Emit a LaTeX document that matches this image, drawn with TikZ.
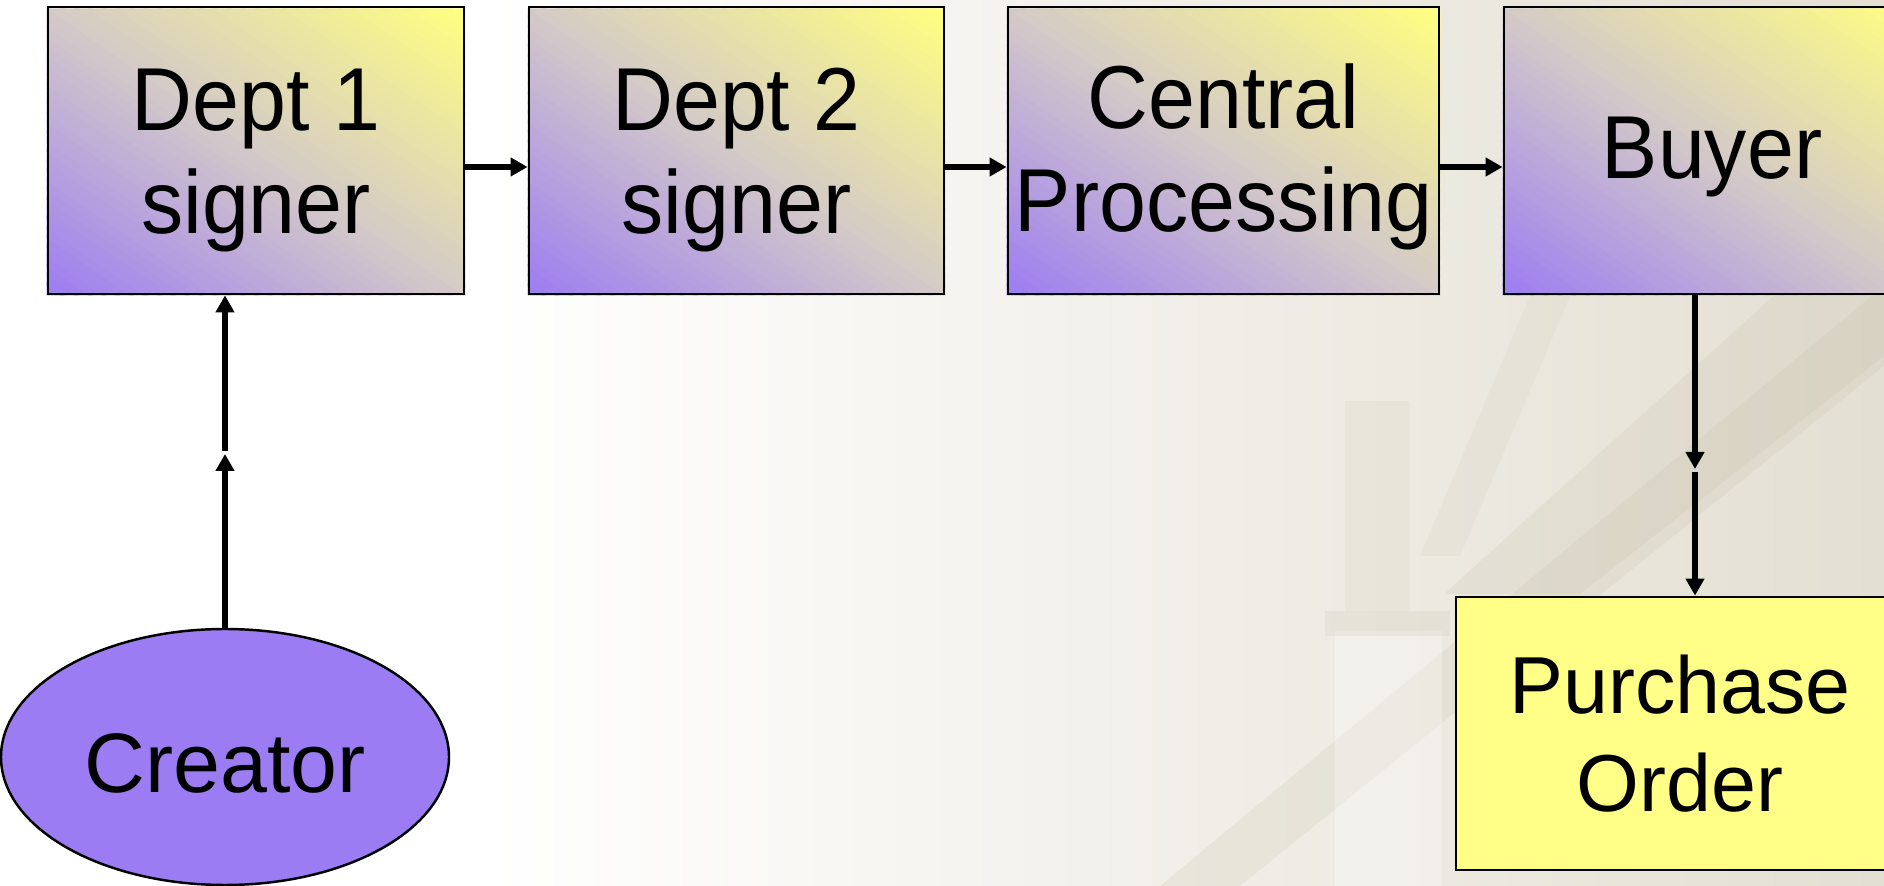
\documentclass[tikz,border=0pt]{standalone}
\usepackage{fontspec}
\setmainfont{Liberation Sans}
\usetikzlibrary{arrows.meta,shapes.geometric,calc}
\definecolor{boxyellow}{RGB}{255,255,128}
\definecolor{boxpurple}{RGB}{156,124,242}
\definecolor{boxmid}{RGB}{212,202,200}
\definecolor{poyellow}{RGB}{255,255,136}
\definecolor{bgA}{RGB}{242,240,234}
\definecolor{bgB}{RGB}{228,223,211}
\definecolor{ornament}{RGB}{190,182,156}
\pgfdeclarehorizontalshading{bgshade}{100bp}{color(0bp)=(white); color(25bp)=(white); color(38bp)=(white); color(55bp)=(bgA); color(75bp)=(bgB); color(100bp)=(bgB)}
\pgfdeclarelayer{back}
\pgfdeclarelayer{grad}
\pgfsetlayers{back,grad,main}
% diagonal corner-to-corner gradient inside a named node: #1 node, #2 width, #3 height
\newcommand\gradfill[3]{%
  \begin{scope}
    \clip (#1.south west) rectangle (#1.north east);
    \begin{scope}[shift={(#1.south west)}, x=#2, y=#3]
      \foreach \i in {0,...,59}{%
        \pgfmathsetmacro\sa{\i/30}%
        \pgfmathsetmacro\sb{(\i+1.3)/30}%
        \pgfmathtruncatemacro\pa{min(100,round((\i+0.5)/30*100))}%
        \pgfmathtruncatemacro\pb{max(0,round(((\i+0.5)/30-1)*100))}%
        \ifnum\i<30 \colorlet{stripc}{boxmid!\pa!boxpurple}\else\colorlet{stripc}{boxyellow!\pb!boxmid}\fi
        \fill[stripc] (\sa,0) -- (\sb,0) -- (\sb-1,1) -- (\sa-1,1) -- cycle;
      }
    \end{scope}
  \end{scope}}
\newcommand\btext[2]{\raisebox{#1}[\height][\depth]{\scalebox{1.0}[1.06]{\begin{tabular}{@{}c@{}}#2\end{tabular}}}}
\begin{document}
\begin{tikzpicture}[
  gbox/.style={draw=black, line width=0.8pt, rectangle, minimum width=#1, minimum height=2.87cm,
    inner sep=0pt, font=\fontsize{24}{27.5}\selectfont},
  pobox/.style={draw=black, line width=0.8pt, rectangle, fill=poyellow, inner sep=0pt,
    minimum width=4.48cm, minimum height=2.73cm, font=\fontsize{23}{28}\selectfont},
  creatorshape/.style={draw=black, line width=0.7pt, ellipse, fill=boxpurple, inner sep=0pt,
    minimum width=4.48cm, minimum height=2.56cm, font=\fontsize{24}{28.5}\selectfont},
  arr/.style={-{Triangle[length=0.17cm,width=0.18cm]}, line width=1.45pt, draw=black},
  orn/.style={fill=ornament, opacity=0.16}
]
\useasboundingbox (0,0) rectangle (18.84,8.86);
% background
\begin{pgfonlayer}{back}
\shade[shading=bgshade] (0,0) rectangle (18.84,8.86);
\fill[orn] (11.6,0) -- (12.4,0) -- (18.84,5.2) -- (18.84,6.0) -- cycle;
\fill[orn, opacity=0.1] (14.2,3.3) -- (14.6,3.3) -- (15.7,5.9) -- (15.3,5.9) -- cycle;
\fill[orn] (14.44,2.92) -- (15.80,2.92) -- (18.84,5.3) -- (18.84,6.9) -- cycle;
\fill[white, opacity=0.3] (13.35,0) rectangle (14.42,2.55);
\fill[orn] (13.25,2.5) rectangle (14.5,2.75);
\fill[orn, opacity=0.1] (13.45,2.75) rectangle (14.1,4.85);
\end{pgfonlayer}

% nodes
\node[gbox=4.16cm] (d1) at (2.56,7.355) {\btext{-0.11cm}{Dept 1\\signer}};
\node[gbox=4.15cm] (d2) at (7.365,7.355) {\btext{-0.11cm}{Dept 2\\signer}};
\node[gbox=4.31cm] (cp) at (12.235,7.355) {\btext{-0.09cm}{Central\\Processing}};
\node[gbox=4.16cm] (by) at (17.12,7.355) {\btext{-0.08cm}{Buyer}};
\node[creatorshape] (cr) at (2.25,1.29) {\raisebox{-0.06cm}[\height][\depth]{Creator}};
\node[pobox, align=center] (po) at (16.80,1.525) {Purchase\\Order};

\begin{pgfonlayer}{grad}
\gradfill{d1}{4.16cm}{2.87cm}
\gradfill{d2}{4.15cm}{2.87cm}
\gradfill{cp}{4.31cm}{2.87cm}
\gradfill{by}{4.16cm}{2.87cm}
\end{pgfonlayer}

\coordinate (m1) at (2.25,4.32);
\coordinate (m2) at (16.95,4.17);

% connectors
\draw[arr] ([yshift=-0.165cm]d1.east) -- ([yshift=-0.165cm]d2.west);
\draw[arr] ([yshift=-0.165cm]d2.east) -- ([yshift=-0.165cm]cp.west);
\draw[arr] ([yshift=-0.165cm]cp.east) -- ([yshift=-0.165cm]by.west);
\draw[arr] (cr.north) -- (m1);
\draw[arr] ([yshift=0.03cm]m1) -- (m1 |- d1.south);
\draw[arr] (m2 |- by.south) -- (m2);
\draw[arr] ([yshift=-0.03cm]m2) -- (m2 |- po.north);
\end{tikzpicture}
\end{document}
